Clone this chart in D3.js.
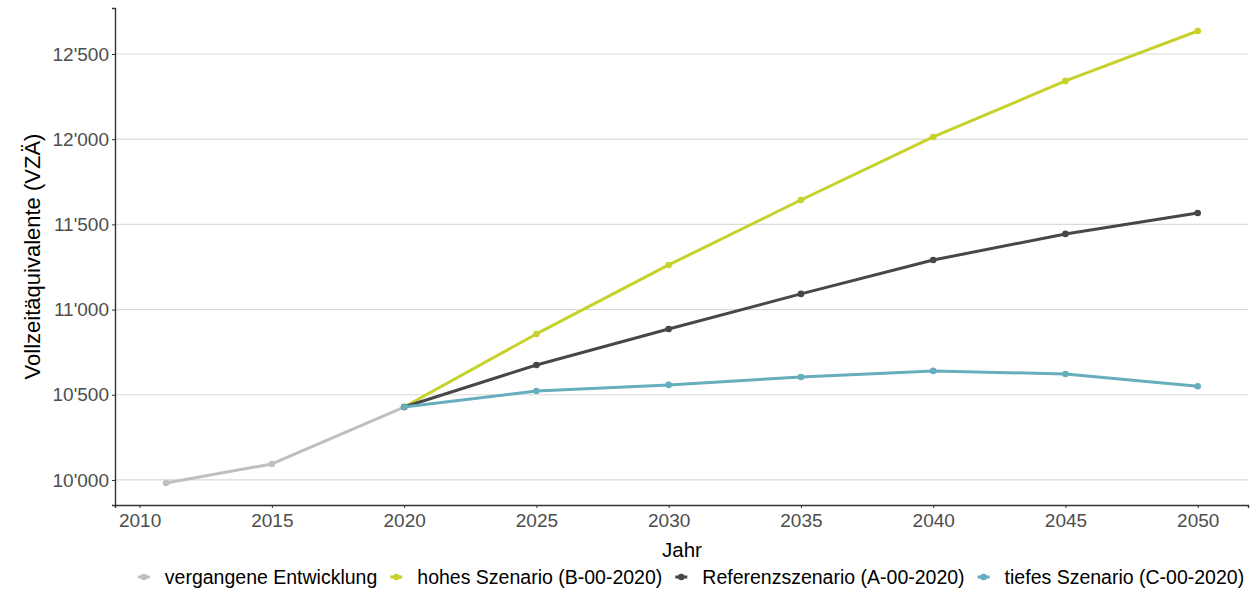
<!DOCTYPE html>
<html>
<head>
<meta charset="utf-8">
<script src="https://cdn.jsdelivr.net/npm/d3@7"></script>
<style>
  body { margin: 0; background: #fff; }
  svg { font-family: "Liberation Sans", Arial, sans-serif; }
</style>
</head>
<body>
<div id="chart"></div>
<script>
// Data
const pastYears = [2011, 2015, 2020];
const pastValues = [9982, 10094, 10428];

const scenarioYears = [2020, 2025, 2030, 2035, 2040, 2045, 2050];
const highValues = [10428, 10857, 11262, 11643, 12013, 12342, 12635];
const refValues = [10428, 10675, 10886, 11092, 11291, 11444, 11567];
const lowValues = [10428, 10522, 10558, 10604, 10640, 10622, 10550];

const xTicks = [2010, 2015, 2020, 2025, 2030, 2035, 2040, 2045, 2050];
const yTicks = [10000, 10500, 11000, 11500, 12000, 12500];

const seriesNames = [
    'vergangene Entwicklung',
    'hohes Szenario (B-00-2020)',
    'Referenzszenario (A-00-2020)',
    'tiefes Szenario (C-00-2020)'
];
const seriesColors = ['#bfbfbf', '#c6d22b', '#474747', '#66adbd'];

const series = [
    { name: seriesNames[0], color: seriesColors[0], years: pastYears, values: pastValues },
    { name: seriesNames[1], color: seriesColors[1], years: scenarioYears, values: highValues },
    { name: seriesNames[2], color: seriesColors[2], years: scenarioYears, values: refValues },
    { name: seriesNames[3], color: seriesColors[3], years: scenarioYears, values: lowValues }
];

const width = 1258, height = 591;
const margin = { top: 8, right: 10, bottom: 86, left: 115 };

const svg = d3.select('#chart')
    .append('svg')
    .attr('width', width)
    .attr('height', height);

const x = d3.scaleLinear()
    .domain([2009.07, 2051.9])
    .range([margin.left, width - margin.right]);

const y = d3.scaleLinear()
    .domain([9853, 12770])
    .range([height - margin.bottom, margin.top]);

const fmt = v => d3.format(',')(v).replace(/,/g, "'");

// Horizontal grid lines
svg.append('g')
    .selectAll('line')
    .data(yTicks)
    .join('line')
    .attr('x1', margin.left)
    .attr('x2', width - margin.right)
    .attr('y1', d => y(d))
    .attr('y2', d => y(d))
    .style('stroke', '#d9d9d9')
    .style('stroke-width', 1.2);

// Axes
const xAxis = svg.append('g')
    .attr('transform', `translate(0,${height - margin.bottom})`)
    .call(d3.axisBottom(x).tickValues(xTicks).tickFormat(d3.format('d')).tickSize(3).tickPadding(3));

const yAxis = svg.append('g')
    .attr('transform', `translate(${margin.left},0)`)
    .call(d3.axisLeft(y).tickValues(yTicks).tickFormat(fmt).tickSize(3).tickPadding(3));

[xAxis, yAxis].forEach(a => {
    a.select('.domain').style('stroke', '#333').style('stroke-width', 1.4);
    a.selectAll('.tick line').style('stroke', '#333');
    a.selectAll('.tick text')
        .style('font-size', '19px')
        .style('fill', '#4d4d4d')
        .style('font-family', '"Liberation Sans", Arial, sans-serif');
});
xAxis.selectAll('.tick text').attr('dy', '0.85em');

// Lines and points
const line = d3.line()
    .x(d => x(d[0]))
    .y(d => y(d[1]));

series.forEach(s => {
    const pts = s.years.map((yr, i) => [yr, s.values[i]]);
    svg.append('path')
        .datum(pts)
        .attr('d', line)
        .style('fill', 'none')
        .style('stroke', s.color)
        .style('stroke-width', 3)
        .style('stroke-linejoin', 'round');
    svg.append('g')
        .selectAll('circle')
        .data(pts)
        .join('circle')
        .attr('cx', d => x(d[0]))
        .attr('cy', d => y(d[1]))
        .attr('r', 3.3)
        .style('fill', s.color);
});

// Axis titles
svg.append('text')
    .attr('x', 682)
    .attr('y', 557)
    .attr('text-anchor', 'middle')
    .style('font-size', '20.5px')
    .style('fill', '#000')
    .text('Jahr');

svg.append('text')
    .attr('transform', `translate(40,${(margin.top + height - margin.bottom) / 2}) rotate(-90)`)
    .attr('text-anchor', 'middle')
    .style('font-size', '22px')
    .style('fill', '#000')
    .text('Vollzeitäquivalente (VZÄ)');

// Legend
const legend = svg.append('g');
let cursor = 0;
series.forEach(s => {
    const item = legend.append('g').attr('transform', `translate(${cursor},0)`);
    item.append('line')
        .attr('x1', 0).attr('x2', 12)
        .attr('y1', 0).attr('y2', 0)
        .style('stroke', s.color)
        .style('stroke-width', 3);
    item.append('circle')
        .attr('cx', 6).attr('cy', 0).attr('r', 3.3)
        .style('fill', s.color);
    const t = item.append('text')
        .attr('x', 27)
        .attr('y', 0)
        .attr('dy', '0.35em')
        .style('font-size', '19.5px')
        .style('fill', '#000')
        .text(s.name);
    cursor += 27 + t.node().getComputedTextLength() + 13;
});
cursor -= 13;
legend.attr('transform', `translate(${691 - cursor / 2},577)`);
</script>
</body>
</html>
